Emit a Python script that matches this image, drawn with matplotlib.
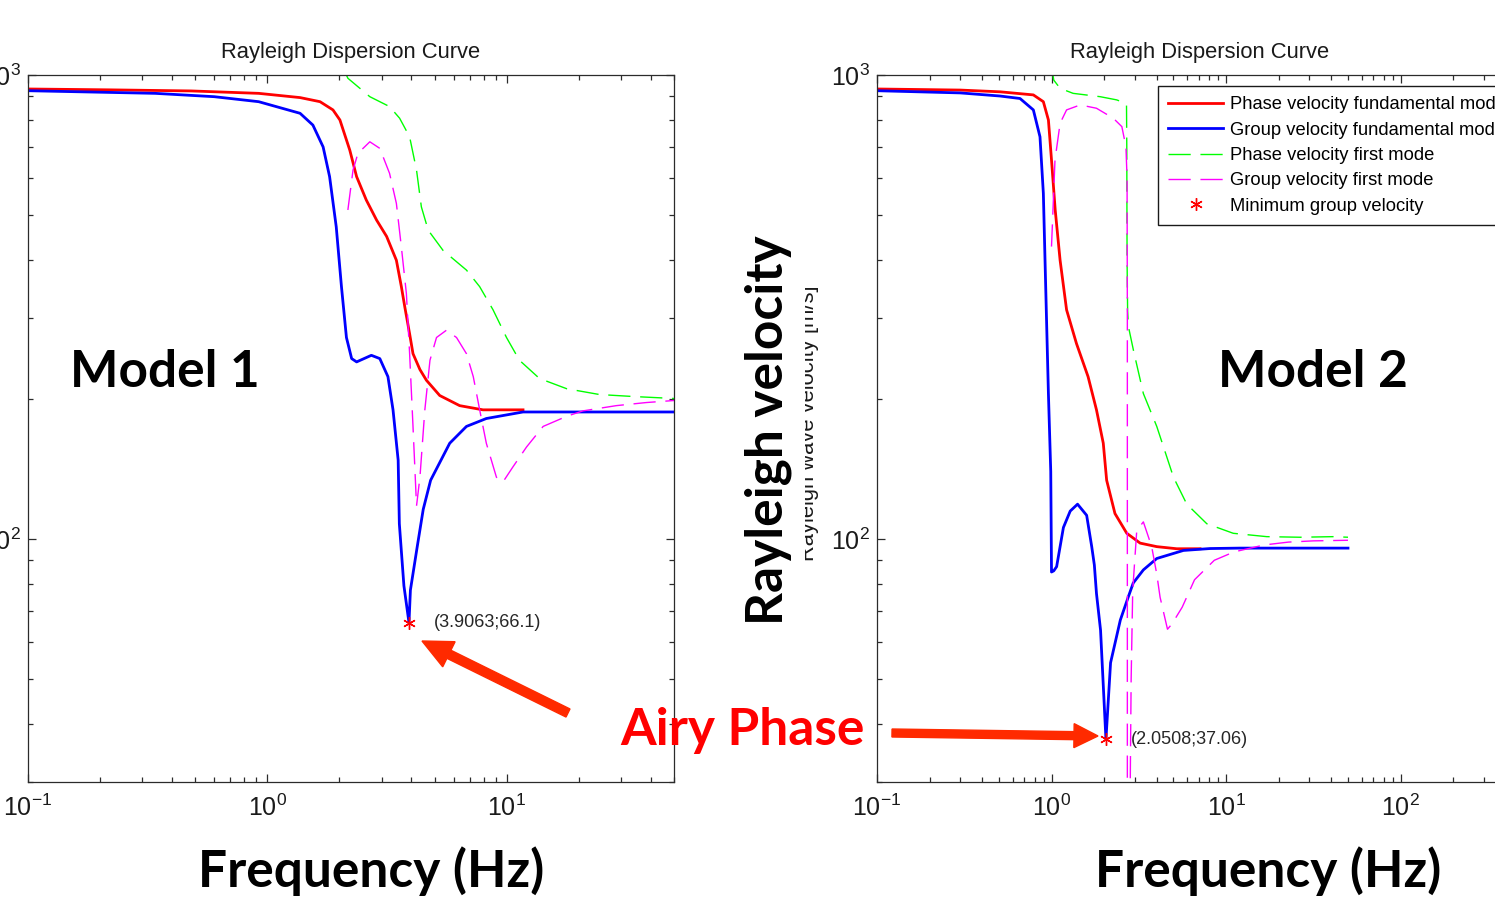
import matplotlib
matplotlib.use("Agg")
import matplotlib.pyplot as plt
from matplotlib.patches import Rectangle, FancyArrow
from matplotlib.ticker import LogLocator, NullFormatter

# --- Model 1 (left panel) ---
m1_phase_f = [0.1, 0.22, 0.48, 0.92, 1.37, 1.66, 1.88, 2.01, 2.21, 2.36, 2.59, 2.86, 3.15,
              3.46, 3.63, 3.75, 3.93, 4.06, 4.34, 4.62, 5.25, 6.36, 7.96, 11.7]
m1_phase_v = [933, 929, 924, 913, 894, 876, 841, 800, 689, 604, 538, 487, 449,
              399, 350, 317, 277, 251, 232, 220, 204, 194, 190, 190]

m1_group_f = [0.1, 0.34, 0.6, 0.92, 1.37, 1.55, 1.71, 1.82, 1.94, 2.04, 2.14, 2.25, 2.36,
              2.72, 2.95, 3.19, 3.35, 3.52, 3.56, 3.72, 3.9063, 3.96, 4.23, 4.48, 4.81,
              5.78, 6.79, 8.22, 11.7, 50]
m1_group_v = [925, 913, 898, 876, 827, 780, 700, 604, 471, 350, 272, 245, 241,
              249, 245, 224, 190, 148, 108, 79.4, 66.1, 77.7, 96.5, 116, 134,
              161, 175, 182, 188, 188]

m1_phase1_f = [2.12, 2.17, 2.68, 3.24, 3.57, 3.93, 4.20, 4.40, 4.70, 5.42, 6.79, 7.71,
               8.77, 9.98, 11.3, 13.7, 17.8, 24.4, 33.7, 50]
m1_phase1_v = [1010, 984, 898, 855, 807, 736, 624, 520, 463, 419, 380, 350,
               312, 272, 243, 222, 211, 205, 203, 201]

m1_group1_f = [2.17, 2.28, 2.39, 2.68, 2.95, 3.24, 3.46, 3.63, 3.81, 3.93, 4.06, 4.20,
               4.34, 4.55, 4.78, 5.09, 5.60, 6.17, 6.79, 7.25, 7.71, 8.22, 9.06, 9.66,
               10.6, 12.1, 14.2, 17.8, 20.8, 28.7, 38.3, 50]
m1_group1_v = [512, 624, 678, 718, 695, 614, 529, 426, 338, 251, 175, 118,
               136, 190, 243, 272, 282, 272, 251, 224, 190, 161, 136, 133,
               143, 158, 175, 184, 189, 194, 197, 199]

m1_min = (3.9063, 66.1)

# --- Model 2 (right panel) ---
m2_phase_f = [0.1, 0.3, 0.507, 0.787, 0.898, 0.96, 1.0, 1.05, 1.12, 1.22, 1.39, 1.62,
              1.81, 1.98, 2.07, 2.31, 2.70, 3.22, 4.01, 5.22, 7.1]
m2_phase_v = [933, 928, 920, 906, 876, 800, 656, 512, 399, 312, 264, 224,
              190, 161, 134, 113.6, 103, 98.1, 96.4, 95.4, 95.4]

m2_group_f = [0.1, 0.3, 0.507, 0.66, 0.787, 0.859, 0.898, 0.918, 0.96, 0.99, 1.0, 1.03,
              1.07, 1.17, 1.28, 1.41, 1.59, 1.70, 1.76, 1.81, 1.91, 2.0508, 2.18, 2.48,
              2.75, 2.94, 3.36, 4.01, 5.7, 8.1, 12, 50]
m2_group_v = [925, 915, 901, 890, 841, 736, 556, 399, 206, 140, 85, 85.5,
              87.3, 106, 115, 119, 112.6, 96.4, 88, 76.4, 63.7, 37.06, 54.2, 67,
              75, 80.5, 85.9, 90.9, 94.6, 95.5, 95.7, 95.7]

m2_phase1_f = [1.0, 1.03, 1.12, 1.33, 1.90, 2.36, 2.67, 2.69, 2.70, 2.71, 2.73, 2.76,
               2.95, 3.36, 4.01, 5.0, 5.96, 7.76, 11.0, 17.1, 26.6, 41.2, 50]
m2_phase1_v = [1050, 975, 936, 913, 898, 884, 869, 865, 700, 400, 310, 287,
               255, 206, 175, 136, 119, 108, 103, 101.3, 101, 101.3, 101]

m2_group1_f = [1.0, 1.047, 1.12, 1.22, 1.46, 1.81, 2.26, 2.53, 2.67, 2.71, 2.72, 2.72,
               2.80, 2.86, 2.92, 3.08, 3.36, 3.75, 4.01, 4.19, 4.62, 4.90, 5.61, 6.60,
               8.57, 11.1, 16.5, 22.8, 31.6, 50]
m2_group1_v = [427, 656, 787, 841, 862, 848, 807, 774, 700, 600, 300, 15,
               20, 50, 77.6, 104.5, 109, 96.4, 84.1, 75, 64.0, 65.7, 71.4, 81.8,
               90.1, 93.9, 97.2, 98.6, 99.2, 99.5]

m2_min = (2.0508, 37.06)

legend_labels = ['Phase velocity fundamental mode', 'Group velocity fundamental mode',
                 'Phase velocity first mode', 'Group velocity first mode',
                 'Minimum group velocity']

plt.rcParams['font.family'] = ['Liberation Sans', 'DejaVu Sans']
BIG = dict(family=['Lato', 'DejaVu Sans'], weight='bold', fontsize=37)

W, H = 1495, 905
fig = plt.figure(figsize=(W / 100, H / 100), dpi=100)
fig.patch.set_facecolor('white')

ax1 = fig.add_axes([28 / W, 1 - 782 / H, (674 - 28) / W, (782 - 75) / H])
ax2 = fig.add_axes([877 / W, 1 - 782 / H, (1522.5 - 877) / W, (782 - 75) / H])

DASH = (16, 7)


def draw_model(ax, ph, gr, ph1, gr1, vmin, label_txt, xmax):
    ax.plot(*ph, color='#FF0000', lw=2.0, label=legend_labels[0])
    ax.plot(*gr, color='#0000FF', lw=2.0, label=legend_labels[1])
    ax.plot(*ph1, color='#00FF00', lw=1.0, dashes=DASH, label=legend_labels[2])
    ax.plot(*gr1, color='#FF00FF', lw=1.0, dashes=DASH, label=legend_labels[3])
    ax.plot([vmin[0]], [vmin[1]], ls='none', marker=(6, 2, 0), ms=9, mew=1.0,
            color='#FF0000', label=legend_labels[4])
    ax.annotate(label_txt, xy=vmin, xytext=(25, 0), textcoords='offset pixels',
                va='center', ha='left', fontsize=13, color='#262626')
    ax.set_xscale('log')
    ax.set_yscale('log')
    ax.set_xlim(0.1, xmax)
    ax.set_ylim(30, 1000)
    ax.set_title('Rayleigh Dispersion Curve', fontsize=15.8, pad=12, color='#1a1a1a')
    ax.xaxis.set_minor_locator(LogLocator(base=10, subs=range(2, 10), numticks=20))
    ax.yaxis.set_minor_locator(LogLocator(base=10, subs=range(2, 10), numticks=20))
    ax.xaxis.set_minor_formatter(NullFormatter())
    ax.yaxis.set_minor_formatter(NullFormatter())
    ax.tick_params(which='both', direction='in', top=True, right=True,
                   colors='#2b2b2b', labelcolor='#1a1a1a', width=0.9)
    ax.tick_params(which='major', length=6, labelsize=18)
    ax.tick_params(which='minor', length=3.5)
    ax.tick_params(axis='x', which='major', pad=9)
    ax.tick_params(axis='y', which='major', pad=5)
    for s in ax.spines.values():
        s.set_color('#2b2b2b')
        s.set_linewidth(0.9)


draw_model(ax1, (m1_phase_f, m1_phase_v), (m1_group_f, m1_group_v),
           (m1_phase1_f, m1_phase1_v), (m1_group1_f, m1_group1_v),
           m1_min, '(3.9063;66.1)', 50)
draw_model(ax2, (m2_phase_f, m2_phase_v), (m2_group_f, m2_group_v),
           (m2_phase1_f, m2_phase1_v), (m2_group1_f, m2_group1_v),
           m2_min, '(2.0508;37.06)', 500)

ax2.set_ylabel('Rayleigh wave velocity [m/s]', fontsize=15.8, color='#1a1a1a')
ax2.yaxis.set_label_coords(-0.0899, 0.508)

leg = ax2.legend(loc='upper left', bbox_to_anchor=(1158 / W, 1 - 86 / H),
                 bbox_transform=fig.transFigure, fontsize=13.2, frameon=True,
                 fancybox=False, framealpha=1, edgecolor='#1a1a1a',
                 handlelength=3.0, handletextpad=0.35, labelspacing=0.46,
                 borderpad=0.55, borderaxespad=0)
leg.get_frame().set_linewidth(1.0)

# --- slide annotations drawn over both panels (pixel coordinates) ---
ov = fig.add_axes([0, 0, 1, 1])
ov.set_xlim(0, W)
ov.set_ylim(H, 0)
ov.axis('off')
ov.patch.set_alpha(0)

ov.add_patch(Rectangle((742, 230), 63, 400, facecolor='white', edgecolor='none', zorder=1))
ov.text(70, 387, 'Model 1', ha='left', va='baseline', color='black', zorder=3, **BIG)
ov.text(1218, 387, 'Model 2', ha='left', va='baseline', color='black', zorder=3, **BIG)
ov.text(371, 887, 'Frequency (Hz)', ha='center', va='baseline', color='black', zorder=3, **BIG)
ov.text(1268, 887, 'Frequency (Hz)', ha='center', va='baseline', color='black', zorder=3, **BIG)
ov.text(783, 430, 'Rayleigh velocity', rotation=90, rotation_mode='anchor',
        ha='center', va='baseline', color='black', zorder=3, **BIG)
ov.text(620, 745, 'Airy Phase', ha='left', va='baseline', color='#FF0000', zorder=3, **BIG)

ov.add_patch(FancyArrow(568, 713, -146, -72, width=9, head_width=28, head_length=30,
                        length_includes_head=True, color='#FF2A00', zorder=3))
ov.add_patch(FancyArrow(892, 733, 206, 3, width=8, head_width=24, head_length=24,
                        length_includes_head=True, color='#FF2A00', zorder=3))

fig.savefig('out.png', dpi=100)
